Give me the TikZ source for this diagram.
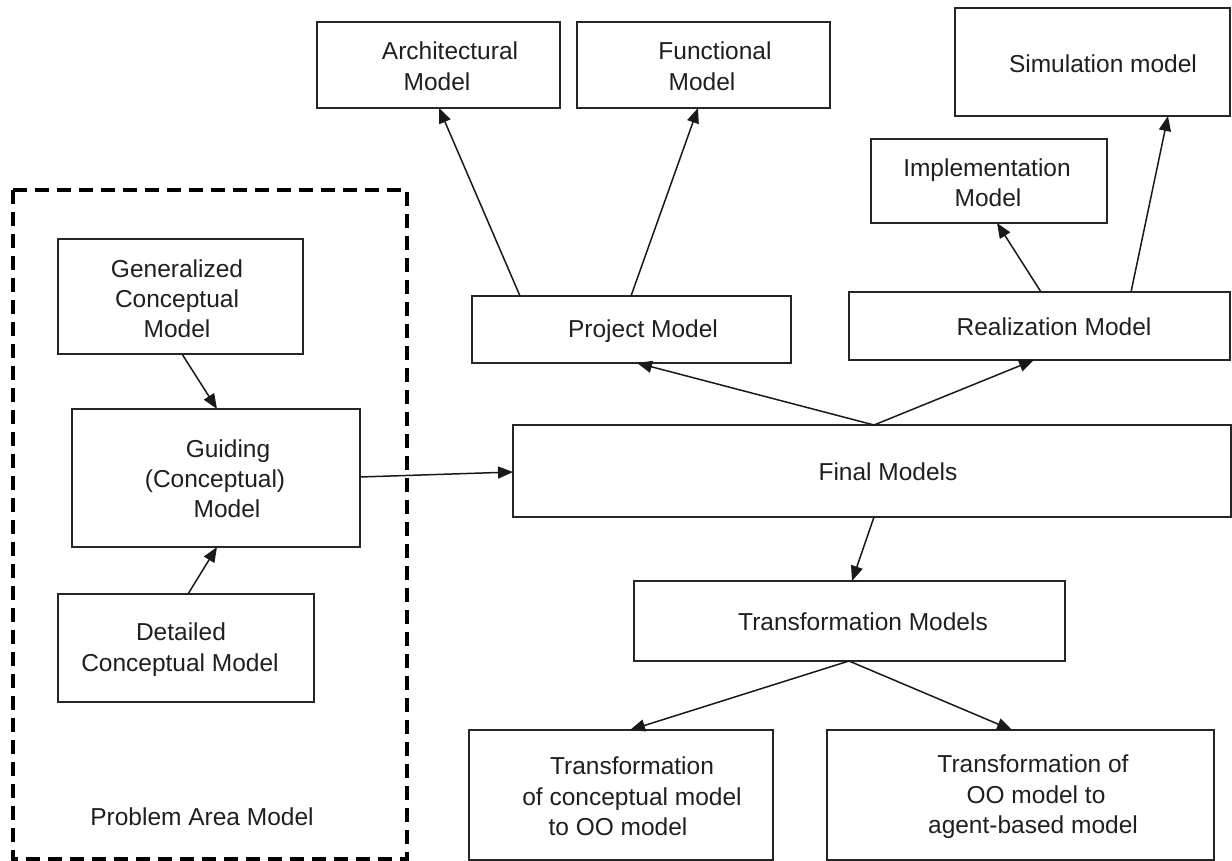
\documentclass[tikz,border=0pt]{standalone}
\usepackage{fontspec}
\setmainfont{Liberation Sans}
\usetikzlibrary{arrows.meta,calc}
% rectangle from its corner coordinates: name, x1, y1, x2, y2
\newcommand\mdlbox[5]{%
  \node[box,minimum width={#4-#2},minimum height={#5-#3}]
    (#1) at ({(#2+#4)/2},{(#3+#5)/2}) {};}
\begin{document}
\begin{tikzpicture}[x=1pt,y=-1pt,
  box/.style={draw=black!85,line width=1.8pt,inner sep=0pt,outer sep=0pt},
  lbl/.style={anchor=base,inner sep=0pt,font=\fontsize{24.5}{30}\selectfont,text=black!88},
  arr/.style={-{Triangle[length=15pt,width=12pt]},line width=1.5pt,draw=black!90},
  area/.style={draw=black,line width=3.2pt,dash pattern=on 14pt off 8pt}]
\useasboundingbox (0,0) rectangle (1232,861);

% problem area frame
\draw[area] (13,190) rectangle (407,859);
\node[lbl] (areaT) at (202,825) {Problem Area Model};

% boxes
\mdlbox{arch}{317}{22}{560}{108}
\mdlbox{func}{577}{22}{830}{108}
\mdlbox{sim}{955}{8}{1230}{116}
\mdlbox{impl}{871}{139}{1107}{223}
\mdlbox{proj}{472}{296}{791}{363}
\mdlbox{real}{849}{292}{1230}{360}
\mdlbox{final}{513}{425}{1231}{517}
\mdlbox{gen}{58}{239}{303}{354}
\mdlbox{guide}{72}{409}{360}{547}
\mdlbox{det}{58}{594}{314}{702}
\mdlbox{tm}{634}{581}{1065}{661}
\mdlbox{trc}{469}{730}{773}{860}
\mdlbox{tro}{827}{730}{1214}{860}

% texts
\node[lbl] (archA) at (450,60) {Architectural};
\node[lbl] (archB) at (437,91) {Model};
\node[lbl] (funcA) at (715,60) {Functional};
\node[lbl] (funcB) at (702,91) {Model};
\node[lbl] (simA) at (1103,73) {Simulation model};
\node[lbl] (implA) at (987,177) {Implementation};
\node[lbl] (implB) at (988,207) {Model};
\node[lbl] (projA) at (643,337) {Project Model};
\node[lbl] (realA) at (1054,335) {Realization Model};
\node[lbl] (finalA) at (888,480) {Final Models};
\node[lbl] (genA) at (177,277) {Generalized};
\node[lbl] (genB) at (177,307) {Conceptual};
\node[lbl] (genC) at (177,337) {Model};
\node[lbl] (guideA) at (228,457) {Guiding};
\node[lbl] (guideB) at (215,487) {(Conceptual)};
\node[lbl] (guideC) at (227,517) {Model};
\node[lbl] (detA) at (181,640) {Detailed};
\node[lbl] (detB) at (180,671) {Conceptual Model};
\node[lbl] (tmA) at (863,630) {Transformation Models};
\node[lbl] (trcA) at (632,774) {Transformation};
\node[lbl] (trcB) at (632,805) {of conceptual model};
\node[lbl] (trcC) at (618,835) {to OO model};
\node[lbl] (troA) at (1033,772) {Transformation of};
\node[lbl] (troB) at (1036,803) {OO model to};
\node[lbl] (troC) at (1033,833) {agent-based model};

% connectors
\draw[arr] ($(proj.north west)+(48,0)$) -- ($(arch.south west)+(122,0)$);
\draw[arr] ($(proj.north west)+(159,0)$) -- ($(func.south west)+(121,0)$);
\draw[arr] ($(real.north west)+(192,0)$) -- ($(impl.south west)+(126,0)$);
\draw[arr] ($(real.north west)+(282,0)$) -- ($(sim.south west)+(213,0)$);
\draw[arr] ($(final.north west)+(361,0)$) -- ($(proj.south west)+(165,0)$);
\draw[arr] ($(final.north west)+(361,0)$) -- ($(real.south west)+(185,0)$);
\draw[arr] ($(gen.south west)+(124,0)$) -- ($(guide.north west)+(145,0)$);
\draw[arr] ($(det.north west)+(130,0)$) -- ($(guide.south west)+(145,0)$);
\draw[arr] ($(guide.north east)+(0,68)$) -- ($(final.north west)+(0,47)$);
\draw[arr] ($(final.south west)+(361,0)$) -- ($(tm.north west)+(218,0)$);
\draw[arr] ($(tm.south west)+(215,0)$) -- ($(trc.north west)+(161,0)$);
\draw[arr] ($(tm.south west)+(215,0)$) -- ($(tro.north west)+(185,0)$);
\end{tikzpicture}
\end{document}
